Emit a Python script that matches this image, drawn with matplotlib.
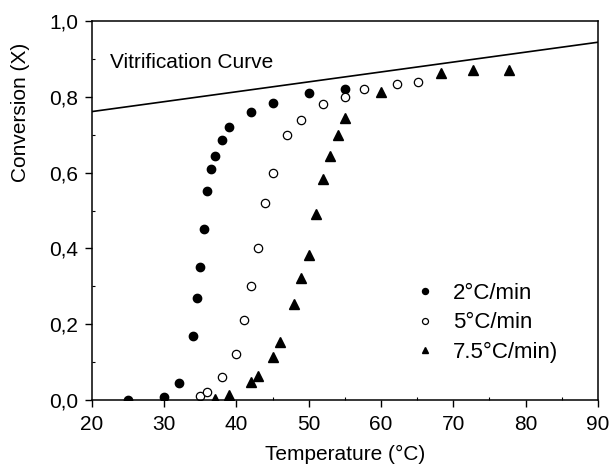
import matplotlib
matplotlib.use("Agg")
import matplotlib.pyplot as plt
from matplotlib.ticker import MultipleLocator, FuncFormatter

# heating rate 2 C/min
t_2 = [25, 30, 32, 34, 34.5, 35, 35.5, 36, 36.5, 37, 38, 39, 42, 45, 50, 55]
x_2 = [0.0, 0.008, 0.045, 0.17, 0.27, 0.35, 0.452, 0.551, 0.61, 0.644, 0.686, 0.72, 0.76, 0.784, 0.81, 0.821]

# heating rate 5 C/min
t_5 = [35, 36, 38, 40, 41, 42, 43, 44, 45, 47, 49, 52, 55, 57.7, 62.2, 65.1]
x_5 = [0.011, 0.02, 0.061, 0.121, 0.211, 0.30, 0.40, 0.52, 0.60, 0.70, 0.74, 0.78, 0.80, 0.82, 0.835, 0.84]

# heating rate 7.5 C/min
t_75 = [37, 39, 42, 43, 45, 46, 48, 49, 50, 51, 52, 53, 54, 55, 60, 68.3, 72.7, 77.7]
x_75 = [0.003, 0.013, 0.048, 0.063, 0.113, 0.152, 0.253, 0.323, 0.383, 0.49, 0.583, 0.644, 0.70, 0.743, 0.813, 0.864, 0.872, 0.872]

# vitrification curve end points
t_vit = [20, 90]
x_vit = [0.761, 0.944]

plt.rcParams['font.family'] = ['Liberation Sans', 'DejaVu Sans']

fig = plt.figure(figsize=(6.12, 4.67), dpi=100)
ax = fig.add_axes([0.150, 0.1435, 0.827, 0.8115])

ax.plot(t_vit, x_vit, color='black', linewidth=1.2)
ax.plot(t_2, x_2, 'o', color='black', markersize=6, linestyle='none', label='2°C/min')
ax.plot(t_5, x_5, 'o', markerfacecolor='white', markeredgecolor='black', markeredgewidth=0.9,
        markersize=6, linestyle='none', label='5°C/min')
ax.plot(t_75, x_75, '^', color='black', markersize=6.5, linestyle='none', label='7.5°C/min)')

ax.text(22.5, 0.89, 'Vitrification Curve', fontsize=15, va='center', ha='left')

ax.set_xlim(20, 90)
ax.set_ylim(0, 1.0)
ax.xaxis.set_major_locator(MultipleLocator(10))
ax.xaxis.set_minor_locator(MultipleLocator(5))
ax.yaxis.set_major_locator(MultipleLocator(0.2))
ax.yaxis.set_minor_locator(MultipleLocator(0.1))
ax.yaxis.set_major_formatter(FuncFormatter(lambda v, p: f"{v:.1f}".replace('.', ',')))
ax.tick_params(which='major', direction='out', length=5, width=1, labelsize=15)
ax.tick_params(axis='x', which='major', pad=6)
ax.tick_params(axis='y', which='major', pad=5)
ax.tick_params(which='minor', direction='in', length=2, width=0.8)

for s in ax.spines.values():
    s.set_linewidth(1.1)

ax.set_xlabel('Temperature (°C)', fontsize=15, labelpad=8)
ax.set_ylabel('Conversion (X)', fontsize=15, va='center')
ax.yaxis.set_label_coords(-0.140, 0.76)

leg = ax.legend(loc='center left', bbox_to_anchor=(0.636, 0.203), frameon=False,
                fontsize=16, markerscale=0.72, handlelength=1.0, handletextpad=0.76,
                labelspacing=0.38, borderpad=0, borderaxespad=0)

fig.savefig('out.png', dpi=100)
